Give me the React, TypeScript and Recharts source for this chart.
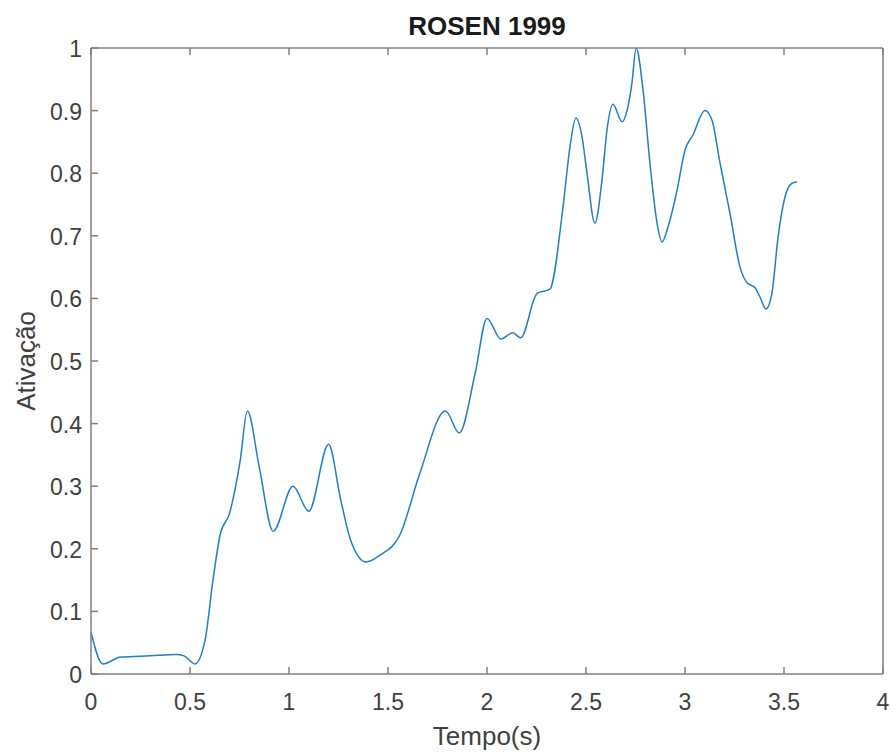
import React from "react";
import { LineChart, Line, XAxis, YAxis, Label } from "recharts";

const tempo = [
  0, 0.06, 0.15, 0.3, 0.43, 0.47, 0.525, 0.576, 0.616, 0.652, 0.7, 0.753, 0.79,
  0.85, 0.92, 1.02, 1.1, 1.2, 1.26, 1.31, 1.39, 1.46, 1.56, 1.66, 1.79, 1.86,
  1.94, 2.0, 2.07, 2.13, 2.17, 2.253, 2.318, 2.384, 2.419, 2.449, 2.48, 2.505,
  2.545, 2.581, 2.606, 2.636, 2.682, 2.707, 2.732, 2.753, 2.788, 2.823, 2.859,
  2.884, 2.914, 2.96, 3.0, 3.04, 3.101, 3.136, 3.177, 3.227, 3.278, 3.313,
  3.354, 3.379, 3.409, 3.439, 3.47, 3.505, 3.54, 3.566,
];

const ativacao = [
  0.067, 0.016, 0.027, 0.029, 0.031, 0.029, 0.016, 0.054, 0.15, 0.222, 0.257,
  0.34, 0.42, 0.33, 0.228, 0.3, 0.26, 0.367, 0.28, 0.215, 0.179, 0.19, 0.222,
  0.32, 0.42, 0.385, 0.48, 0.568, 0.535, 0.545, 0.537, 0.608, 0.615, 0.746,
  0.842, 0.888, 0.858, 0.8, 0.72, 0.79, 0.869, 0.91, 0.882, 0.9, 0.944, 1.0,
  0.933, 0.816, 0.72, 0.69, 0.714, 0.773, 0.837, 0.861, 0.9, 0.885, 0.816,
  0.736, 0.65, 0.625, 0.617, 0.602, 0.583, 0.608, 0.698, 0.762, 0.784, 0.786,
];

const xTicks = [0, 0.5, 1, 1.5, 2, 2.5, 3, 3.5, 4];
const yTicks = [0, 0.1, 0.2, 0.3, 0.4, 0.5, 0.6, 0.7, 0.8, 0.9, 1];

const data = tempo.map((t, i) => ({ t, v: ativacao[i] }));

const AXIS = "#808080";
const TEXT = "#404040";
const FONT = "'Liberation Sans', Arial, sans-serif";

const BottomTick = (p: any) => (
  <g>
    <line x1={p.x} x2={p.x} y1={p.y} y2={p.y - 7} stroke={AXIS} strokeWidth={1.5} />
    <text x={p.x} y={p.y + 36} textAnchor="middle" fill={TEXT} fontSize={23} fontFamily={FONT}>
      {p.payload.value}
    </text>
  </g>
);

const LeftTick = (p: any) => (
  <g>
    <line x1={p.x} x2={p.x + 7} y1={p.y} y2={p.y} stroke={AXIS} strokeWidth={1.5} />
    <text x={p.x - 9} y={p.y + 9} textAnchor="end" fill={TEXT} fontSize={23} fontFamily={FONT}>
      {p.payload.value}
    </text>
  </g>
);

const TopTick = (p: any) => (
  <line x1={p.x} x2={p.x} y1={p.y} y2={p.y + 7} stroke={AXIS} strokeWidth={1.5} />
);

const RightTick = (p: any) => (
  <line x1={p.x} x2={p.x - 7} y1={p.y} y2={p.y} stroke={AXIS} strokeWidth={1.5} />
);

export default function App() {
  return (
    <div style={{ position: "absolute", left: 0, top: 0, width: 893, height: 755, background: "#fff" }}>
      <div
        style={{
          position: "absolute",
          left: 91,
          width: 792,
          top: 13,
          lineHeight: 1,
          textAlign: "center",
          fontFamily: FONT,
          fontWeight: "bold",
          fontSize: 26,
          color: "#1a1a1a",
        }}
      >
        ROSEN 1999
      </div>
      <LineChart
        width={893}
        height={755}
        data={data}
        margin={{ top: 47, right: 9, bottom: 0, left: 0 }}
      >
        <XAxis
          dataKey="t"
          type="number"
          domain={[0, 4]}
          ticks={xTicks}
          xAxisId="b"
          height={81}
          stroke={AXIS}
          strokeWidth={1.5}
          tickSize={0}
          tickMargin={0}
          tickLine={false}
          tick={BottomTick}
          interval={0}
          allowDataOverflow
        >
          <Label
            content={({ viewBox }: any) => (
              <text
                x={viewBox.x + viewBox.width / 2}
                y={viewBox.y + 71}
                textAnchor="middle"
                fill={TEXT}
                fontSize={26}
                fontFamily={FONT}
              >
                Tempo(s)
              </text>
            )}
          />
        </XAxis>
        <XAxis
          dataKey="t"
          type="number"
          domain={[0, 4]}
          ticks={xTicks}
          xAxisId="top"
          orientation="top"
          height={1}
          tickSize={0}
          tickMargin={0}
          tickLine={false}
          tick={TopTick}
          interval={0}
          stroke={AXIS}
          strokeWidth={1.5}
        />
        <YAxis
          type="number"
          domain={[0, 1]}
          ticks={yTicks}
          yAxisId="l"
          width={91}
          stroke={AXIS}
          strokeWidth={1.5}
          tickSize={0}
          tickMargin={0}
          tickLine={false}
          tick={LeftTick}
          interval={0}
          allowDataOverflow
        >
          <Label
            content={({ viewBox }: any) => (
              <text
                x={35}
                y={viewBox.y + viewBox.height / 2}
                transform={`rotate(-90 35 ${viewBox.y + viewBox.height / 2})`}
                textAnchor="middle"
                fill={TEXT}
                fontSize={26}
                fontFamily={FONT}
              >
                Ativação
              </text>
            )}
          />
        </YAxis>
        <YAxis
          type="number"
          domain={[0, 1]}
          ticks={yTicks}
          yAxisId="r"
          orientation="right"
          width={1}
          tickSize={0}
          tickMargin={0}
          tickLine={false}
          tick={RightTick}
          interval={0}
          stroke={AXIS}
          strokeWidth={1.5}
        />
        <Line
          xAxisId="b"
          yAxisId="l"
          type="monotone"
          dataKey="v"
          stroke="#1f7fc8"
          strokeWidth={1.5}
          dot={false}
          isAnimationActive={false}
        />
      </LineChart>
    </div>
  );
}
